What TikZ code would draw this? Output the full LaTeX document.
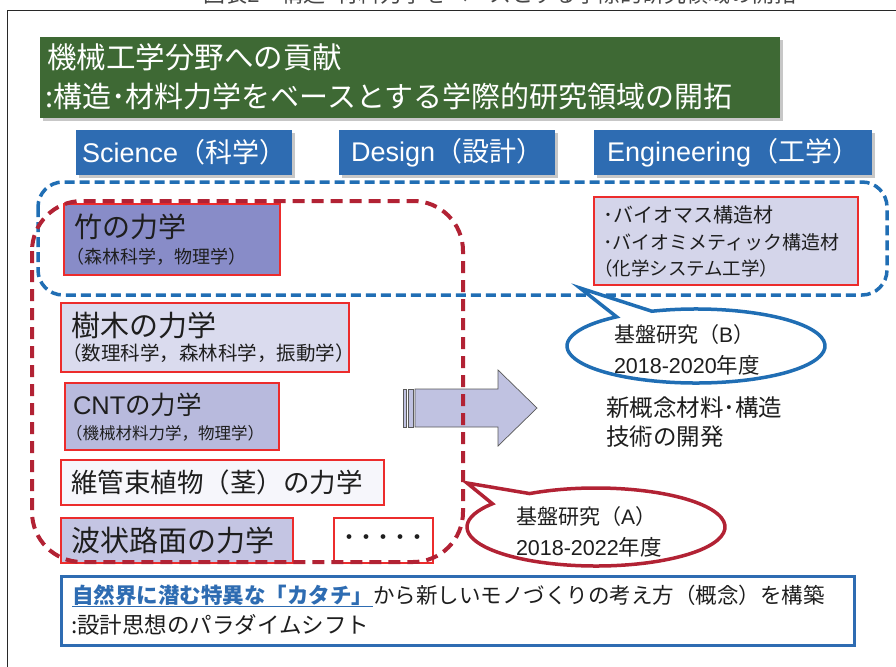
\documentclass[tikz,border=0pt]{standalone}
\usepackage{fontspec}
\setmainfont{Noto Sans CJK JP}
\newfontfamily\latf{Liberation Sans}
\usetikzlibrary{shadows}
\definecolor{gbox}{RGB}{62,105,52}
\definecolor{hblue}{RGB}{46,108,178}
\definecolor{dblue}{RGB}{32,110,180}
\definecolor{dred}{RGB}{178,34,52}
\definecolor{bred}{RGB}{236,44,44}
\definecolor{fbamboo}{RGB}{136,140,200}
\definecolor{ftree}{RGB}{218,219,238}
\definecolor{fcnt}{RGB}{184,186,221}
\definecolor{fvasc}{RGB}{246,246,251}
\definecolor{fwave}{RGB}{196,197,227}
\definecolor{feng}{RGB}{212,213,234}
\definecolor{farrow}{RGB}{192,194,225}
\definecolor{tgray}{RGB}{30,30,30}
\definecolor{capgray}{RGB}{70,70,70}
\definecolor{framegray}{RGB}{40,40,40}
\begin{document}
\begin{tikzpicture}[x=1pt,y=-1pt,
  fs/.style={font=\fontsize{#1}{#1}\selectfont},
  txt/.style={inner sep=0pt, outer sep=0pt, anchor=west, text=tgray},
  rbox/.style={draw=bred, line width=1.6pt, inner sep=0pt, anchor=north west},
  shad/.style={drop shadow={shadow xshift=3pt, shadow yshift=-3pt, fill=black, opacity=0.22}},
  hbox/.style={fill=hblue, inner sep=0pt, anchor=north west, text=white, fs=27, shad},
  bdash/.style={draw=dblue, line width=3.5pt, dash pattern=on 10pt off 5pt},
  rdash/.style={draw=dred, line width=4pt, dash pattern=on 12pt off 7pt},
  callb/.style={draw=dblue, line width=3.5pt, fill=white, line join=miter},
  callr/.style={draw=dred, line width=3.5pt, fill=white, line join=miter},
  arrowpart/.style={draw=black!65, line width=0.7pt, fill=farrow}
]
\useasboundingbox (0,0) rectangle (896,666);
\clip (0,0) rectangle (896,666);
\fill[white] (0,0) rectangle (896,666);

% caption (cut off at top, as in the reference) and frame
\node[txt, anchor=base, fs=22, text=capgray] (cap) at (500,2.5) {図表{\latf 2}　構造･材料力学をベースとする学際的研究領域の開拓};
\draw[framegray, line width=1pt] (7.5,680) -- (7.5,11) -- (910,11);

% title
\node[fill=gbox, anchor=north west, minimum width=740pt, minimum height=81pt, inner sep=0pt, shad] (title) at (40,37) {};
\node[txt, text=white, fs=29.5] (t1) at (47,57) {機械工学分野への貢献};
\node[txt, text=white, fs=29] (t2) at (45,96) {:構造･材料力学をベースとする学際的研究領域の開拓};

% headers
\node[hbox, minimum width=216pt, minimum height=45pt] (sci) at (76,130) {{\latf Science}（科学）};
\node[hbox, minimum width=216pt, minimum height=45pt] (des) at (339,130) {{\latf Design}（設計）};
\node[hbox, minimum width=278pt, minimum height=45pt] (eng) at (594,130) {{\latf Engineering}（工学）};

% boxes
\node[rbox, fill=fbamboo, minimum width=216pt, minimum height=71pt] (bamboo) at (63,203) {};
\node[rbox, fill=ftree, minimum width=288pt, minimum height=69pt] (tree) at (60,302) {};
\node[rbox, fill=fcnt, minimum width=214pt, minimum height=67pt] (cnt) at (64,382) {};
\node[rbox, fill=fvasc, minimum width=323pt, minimum height=45pt] (vasc) at (60,459) {};
\node[rbox, fill=fwave, minimum width=232pt, minimum height=45pt] (wave) at (60,517) {};
\node[rbox, fill=white, minimum width=99pt, minimum height=45pt] (more) at (333,517) {};
\node[rbox, fill=feng, minimum width=264pt, minimum height=88pt] (engbox) at (593,196) {};
\node[draw=hblue, line width=3pt, fill=white, anchor=north west, minimum width=793pt, minimum height=69pt, inner sep=0pt] (concl) at (60,575) {};

% arrow
\draw[arrowpart] (415,389) -- (498,389) -- (498,370) -- (537,408) -- (498,446) -- (498,427) -- (415,427) -- cycle;
\draw[arrowpart] (403,389) rectangle (406.5,427);
\draw[arrowpart] (408.5,389) rectangle (413,427);

% dashed regions
\draw[bdash, rounded corners=25pt] (38,182) rectangle (887,295);
\draw[rdash, rounded corners=50pt] (32,201) rectangle (463,562);

% callouts
\draw[callb] (696,346) ++(250:129 and 37) arc[start angle=250, end angle=592, x radius=129, y radius=37] -- (580,288) -- cycle;
\draw[callr] (596,527) ++(239:129 and 39) arc[start angle=239, end angle=576.6, x radius=129, y radius=39] -- (467,483) -- cycle;

% texts in boxes
\node[txt, fs=28] (bt1) at (74,227) {竹の力学};
\node[txt, fs=18] (bt2) at (66,257) {（森林科学，物理学）};
\node[txt, fs=29] (tt1) at (71,325) {樹木の力学};
\node[txt, fs=19.5] (tt2) at (62,353) {（数理科学，森林科学，振動学）};
\node[txt, fs=25.5] (ct1) at (73,405) {{\latf CNT}の力学};
\node[txt, fs=16.5] (ct2) at (66,433) {（機械材料力学，物理学）};
\node[txt, fs=26.5] (vt) at (71,482) {維管束植物（茎）の力学};
\node[txt, fs=29] (wt) at (71,540) {波状路面の力学};
\node[fs=17, inner sep=0pt, text=tgray] (mt) at (383,539) {\bfseries ・・・・・};
\node[txt, fs=20] (et1) at (603,215) {･バイオマス構造材};
\node[txt, fs=19] (et2) at (603,242) {･バイオミメティック構造材};
\node[txt, fs=18.5] (et3) at (594,268) {（化学システム工学）};

% callout texts
\node[txt, fs=21] (kb1) at (614,335) {基盤研究（{\latf B}）};
\node[txt, fs=21.5] (kb2) at (614,365) {{\latf 2018-2020}年度};
\node[txt, fs=21] (ka1) at (516,517) {基盤研究（{\latf A}）};
\node[txt, fs=21.5] (ka2) at (516,547) {{\latf 2018-2022}年度};

% result text
\node[txt, fs=23.5] (r1) at (606,408) {新概念材料･構造};
\node[txt, fs=23.5] (r2) at (606,437) {技術の開発};

% conclusion
\node[txt, fs=21.5, text=hblue] (c1a) at (72,595) {\bfseries 自然界に潜む特異な「カタチ」};
\node[txt, fs=21.5] (c1b) at (c1a.east) {から新しいモノづくりの考え方（概念）を構築};
\draw[hblue, line width=1.5pt] ([yshift=-1pt]c1a.south west) -- ([yshift=-1pt]c1a.south east);
\node[txt, fs=22.5] (c2) at (71,625) {:設計思想のパラダイムシフト};
\end{tikzpicture}
\end{document}
